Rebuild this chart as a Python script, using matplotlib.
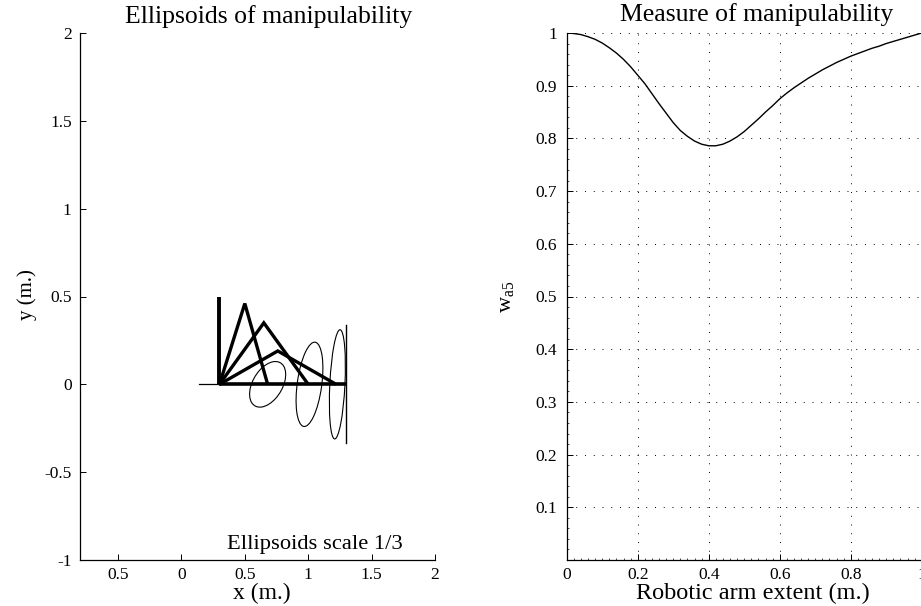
import matplotlib
matplotlib.use('Agg')
import matplotlib.pyplot as plt
from matplotlib.patches import Ellipse

plt.rcParams['font.family'] = 'Liberation Serif'
plt.rcParams['mathtext.fontset'] = 'custom'
plt.rcParams['mathtext.rm'] = 'Liberation Serif'

# arm poses: base, elbow, end
arm_x = [[0.3, 0.3], [0.3, 0.5, 0.68], [0.3, 0.65, 1.0], [0.3, 0.76, 1.22], [0.3, 0.8, 1.3]]
arm_y = [[0.0, 0.5], [0.0, 0.46, 0.0], [0.0, 0.35, 0.0], [0.0, 0.19, 0.0], [0.0, 0.0, 0.0]]
arm_lw = [2.8, 2.4, 2.4, 2.4, 2.6]
base_x = [0.14, 0.3]
base_y = [0.0, 0.0]
limit_x = [1.30, 1.30]
limit_y = [0.336, -0.336]

# ellipses of manipulability
ell_x = [0.68, 1.01, 1.23]
ell_y = [0.0, 0.0, 0.0]
ell_w = [0.327, 0.488, 0.623]
ell_h = [0.204, 0.192, 0.119]
ell_ang = [39.0, 78.6, 86.0]

left_xticks = [-0.5, 0, 0.5, 1, 1.5, 2]
left_xlabels = ['0.5', '0', '0.5', '1', '1.5', '2']
left_yticks = [-1, -0.5, 0, 0.5, 1, 1.5, 2]
left_ylabels = ['-1', '-0.5', '0', '0.5', '1', '1.5', '2']

# measure curve
extent = [0.0, 0.02, 0.04, 0.06, 0.08, 0.10, 0.12, 0.14, 0.16, 0.18, 0.20, 0.22, 0.24,
          0.26, 0.28, 0.30, 0.32, 0.34, 0.36, 0.38, 0.40, 0.42, 0.44, 0.46, 0.48, 0.50,
          0.52, 0.54, 0.56, 0.58, 0.60, 0.62, 0.64, 0.66, 0.68, 0.70, 0.72, 0.74, 0.76,
          0.78, 0.80, 0.82, 0.84, 0.86, 0.88, 0.90, 0.92, 0.94, 0.96, 0.98, 1.0]
measure = [1.0, 0.999, 0.997, 0.993, 0.988, 0.981, 0.972, 0.962, 0.950, 0.936, 0.920, 0.904, 0.885,
           0.866, 0.848, 0.830, 0.815, 0.804, 0.795, 0.789, 0.786, 0.786, 0.789, 0.795, 0.803, 0.813,
           0.825, 0.837, 0.850, 0.862, 0.875, 0.886, 0.896, 0.905, 0.914, 0.922, 0.930, 0.937, 0.944,
           0.950, 0.956, 0.961, 0.966, 0.971, 0.975, 0.980, 0.984, 0.988, 0.992, 0.996, 1.0]

right_xticks = [0, 0.2, 0.4, 0.6, 0.8, 1]
right_xlabels = ['0', '0.2', '0.4', '0.6', '0.8', '1']
right_yticks = [0.1, 0.2, 0.3, 0.4, 0.5, 0.6, 0.7, 0.8, 0.9, 1]
right_ylabels = ['0.1', '0.2', '0.3', '0.4', '0.5', '0.6', '0.7', '0.8', '0.9', '1']

W, H = 921.0, 606.0
fig = plt.figure(figsize=(9.21, 6.06), dpi=100)

ax1 = fig.add_axes([80 / W, 1 - 560 / H, 355 / W, 527 / H])
for xs, ys, lw in zip(arm_x, arm_y, arm_lw):
    ax1.plot(xs, ys, color='k', lw=lw, solid_joinstyle='miter', solid_capstyle='butt')
ax1.plot(base_x, base_y, color='k', lw=0.9)
ax1.plot(limit_x, limit_y, color='k', lw=1.0)
for cx, cy, w, h, a in zip(ell_x, ell_y, ell_w, ell_h, ell_ang):
    ax1.add_patch(Ellipse((cx, cy), w, h, angle=a, fill=False, ec='k', lw=0.8))
ax1.set_xlim(-0.8, 2)
ax1.set_ylim(-1, 2)
ax1.set_xticks(left_xticks, left_xlabels)
ax1.set_yticks(left_yticks, left_ylabels)
ax1.set_title('Ellipsoids of manipulability', fontsize=18.5, x=0.531, pad=7.4)
ax1.text(0.363, -0.94, 'Ellipsoids scale 1/3', fontsize=16.2, ha='left', va='baseline')
ax1.set_xlabel('x (m.)', fontsize=17)
ax1.xaxis.set_label_coords((261.7 - 80) / 355, -(599 - 560) / 527)
ax1.xaxis.label.set_va('baseline')
ax1.set_ylabel('y (m.)', fontsize=15)
ax1.yaxis.set_label_coords((37 - 80) / 355, (560 - 295) / 527)

ax2 = fig.add_axes([566.7 / W, 1 - 560 / H, 355 / W, 527 / H])
ax2.plot(extent, measure, color='k', lw=1.0)
ax2.set_xlim(0, 1)
ax2.set_ylim(0, 1)
ax2.set_xticks(right_xticks, right_xlabels)
ax2.set_yticks(right_yticks, right_ylabels)
ax2.set_xticks([i * 0.02 for i in range(51)], minor=True)
ax2.set_yticks([i * 0.02 for i in range(51)], minor=True)
ax2.grid(True, which='major', color='k', lw=0.7, linestyle=(0, (1, 8)))
ax2.set_title('Measure of manipulability', fontsize=18.5, x=0.536, pad=9)
ax2.set_xlabel('Robotic arm extent (m.)', fontsize=17.5)
ax2.xaxis.set_label_coords((753 - 566.7) / 355, -(599 - 560) / 527)
ax2.xaxis.label.set_va('baseline')
ax2.set_ylabel(r'w$_{\mathrm{a5}}$', fontsize=16)
ax2.yaxis.set_label_coords((517 - 566.7) / 355, (560 - 297) / 527)

for ax in (ax1, ax2):
    ax.spines['top'].set_visible(False)
    ax.spines['right'].set_visible(False)
    ax.spines['left'].set_linewidth(0.9)
    ax.spines['bottom'].set_linewidth(0.9)
    ax.tick_params(which='major', direction='in', length=4, width=0.7, labelsize=12.5, pad=5)
    ax.tick_params(which='minor', direction='in', length=1.5, width=0.5)
ax1.tick_params(axis='y', which='major', pad=6)
ax2.tick_params(axis='y', which='major', pad=7)

fig.savefig('out.png', dpi=100)
